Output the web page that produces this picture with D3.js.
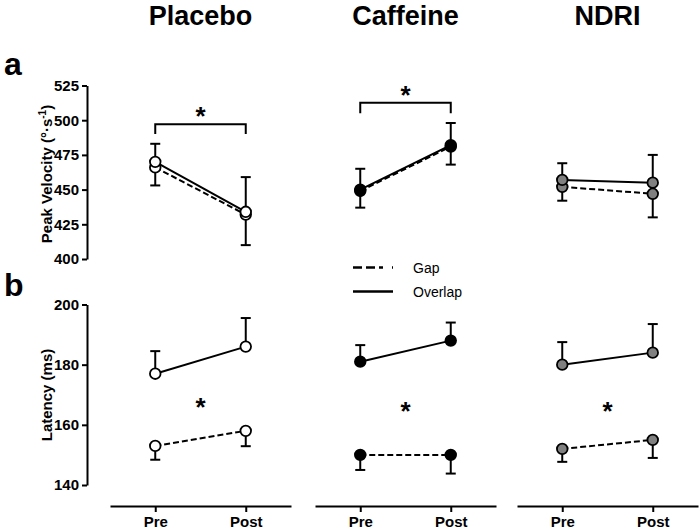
<!DOCTYPE html>
<html>
<head>
<meta charset="utf-8">
<script src="https://cdn.jsdelivr.net/npm/d3@7"></script>
<style>
body { margin: 0; background: #fff; }
text { font-family: "Liberation Sans", Arial, sans-serif; }
</style>
</head>
<body>
<script>
var w = 700;
var h = 531;

var groups = ["Placebo", "Caffeine", "NDRI"];
var times = ["Pre", "Post"];

// peak velocity (deg/s), mean and one-sided SEM
var velOverlap = [[470, 434], [450, 482], [457, 455]];
var velOverlapErr = [[13, 25], [15, 16], [12, 20]];
var velGap = [[466, 432], [449, 481], [452, 447]];
var velGapErr = [[13, 22], [12, 13], [10, 17]];
var velTicks = [400, 425, 450, 475, 500, 525];

// latency (ms)
var latOverlap = [[177, 186], [181, 188], [180, 184]];
var latOverlapErr = [[7.5, 9.5], [5.5, 6], [7.5, 9.5]];
var latGap = [[153, 158], [150, 150], [152, 155]];
var latGapErr = [[4.6, 5.1], [5, 6.2], [4.3, 6]];
var latTicks = [140, 160, 180, 200];

// significance: brackets in panel a, stars between lines in panel b
var velBracket = [[497, 490], [512.5, 505], null];
var latStar = [168, 166.5, 166.5];

var fills = ["#ffffff", "#000000", "#808080"];

var svg = d3.select("body").append("svg")
  .attr("width", w)
  .attr("height", h);

var panelX = [110, 315, 517];
var panelW = 181;

var yVel = d3.scaleLinear().domain([400, 525]).range([259, 85.5]);
var yLat = d3.scaleLinear().domain([140, 200]).range([485, 304.5]);

// panel letters
svg.append("text").attr("x", 4).attr("y", 75).text("a")
  .attr("font-size", 32).attr("font-weight", "bold");
svg.append("text").attr("x", 4).attr("y", 296).text("b")
  .attr("font-size", 32).attr("font-weight", "bold");

// y axes
function yAxis(scale, ticks) {
  var g = svg.append("g").attr("transform", "translate(87,0)")
    .call(d3.axisLeft(scale).tickValues(ticks).tickSize(5).tickSizeOuter(0).tickPadding(3));
  g.selectAll("path, line").attr("stroke", "#000").attr("stroke-width", 2);
  g.selectAll("text").attr("font-size", 15).attr("font-weight", "bold")
    .attr("font-family", "Liberation Sans, Arial, sans-serif").attr("fill", "#000");
  return g;
}
yAxis(yVel, velTicks);
yAxis(yLat, latTicks);

var velLab = svg.append("text")
  .attr("transform", "translate(52,174) rotate(-90)")
  .attr("text-anchor", "middle")
  .attr("font-size", 15).attr("font-weight", "bold");
velLab.append("tspan").text("Peak Velocity (°·s");
velLab.append("tspan").text("-1").attr("font-size", 10).attr("dy", -6);
velLab.append("tspan").text(")").attr("dy", 6);

svg.append("text")
  .attr("transform", "translate(52,395) rotate(-90)")
  .attr("text-anchor", "middle")
  .attr("font-size", 15).attr("font-weight", "bold")
  .text("Latency (ms)");

groups.forEach(function(name, gi) {
  var x = d3.scalePoint().domain(times)
    .range([panelX[gi], panelX[gi] + panelW]).padding(0.5);

  svg.append("text")
    .attr("x", panelX[gi] + panelW / 2)
    .attr("y", 25)
    .attr("text-anchor", "middle")
    .attr("font-size", 27).attr("font-weight", "bold")
    .text(name);

  // x axis
  var xa = svg.append("g").attr("transform", "translate(0,506)")
    .call(d3.axisBottom(x).tickSize(6).tickSizeOuter(0).tickPadding(4));
  xa.selectAll("path, line").attr("stroke", "#000").attr("stroke-width", 2);
  xa.selectAll("text").attr("font-size", 15).attr("font-weight", "bold")
    .attr("font-family", "Liberation Sans, Arial, sans-serif").attr("fill", "#000");

  var series = [
    { y: yVel, m: velGap[gi], e: velGapErr[gi], dir: -1, dash: "6,3" },
    { y: yVel, m: velOverlap[gi], e: velOverlapErr[gi], dir: 1, dash: null },
    { y: yLat, m: latGap[gi], e: latGapErr[gi], dir: -1, dash: "6,3" },
    { y: yLat, m: latOverlap[gi], e: latOverlapErr[gi], dir: 1, dash: null }
  ];

  series.forEach(function(s) {
    var pts = times.map(function(t, i) {
      return { t: t, v: s.m[i], e: s.e[i] };
    });
    var g = svg.append("g");
    // error bars (one-sided)
    g.selectAll("line.err").data(pts).enter().append("line")
      .attr("x1", function(d) { return x(d.t); })
      .attr("x2", function(d) { return x(d.t); })
      .attr("y1", function(d) { return s.y(d.v); })
      .attr("y2", function(d) { return s.y(d.v + s.dir * d.e); })
      .attr("stroke", "#000").attr("stroke-width", 2);
    g.selectAll("line.cap").data(pts).enter().append("line")
      .attr("x1", function(d) { return x(d.t) - 5; })
      .attr("x2", function(d) { return x(d.t) + 5; })
      .attr("y1", function(d) { return s.y(d.v + s.dir * d.e); })
      .attr("y2", function(d) { return s.y(d.v + s.dir * d.e); })
      .attr("stroke", "#000").attr("stroke-width", 2);
    g.append("path")
      .datum(pts)
      .attr("d", d3.line().x(function(d) { return x(d.t); }).y(function(d) { return s.y(d.v); }))
      .attr("fill", "none").attr("stroke", "#000").attr("stroke-width", 2)
      .attr("stroke-dasharray", s.dash);
    g.selectAll("circle").data(pts).enter().append("circle")
      .attr("cx", function(d) { return x(d.t); })
      .attr("cy", function(d) { return s.y(d.v); })
      .attr("r", 5.3)
      .attr("fill", fills[gi]).attr("stroke", "#000").attr("stroke-width", 1.8);
  });

  // significance bracket
  var b = velBracket[gi];
  if (b) {
    var xs = [x("Pre"), x("Post")];
    svg.append("path")
      .attr("d", "M" + xs[0] + "," + yVel(b[1]) + "V" + yVel(b[0]) + "H" + xs[1] + "V" + yVel(b[1]))
      .attr("fill", "none").attr("stroke", "#000").attr("stroke-width", 2);
    svg.append("text")
      .attr("x", (xs[0] + xs[1]) / 2)
      .attr("y", yVel(b[0]) + 1)
      .attr("text-anchor", "middle")
      .attr("font-size", 26).attr("font-weight", "bold")
      .text("*");
  }
  svg.append("text")
    .attr("x", (x("Pre") + x("Post")) / 2)
    .attr("y", yLat(latStar[gi]) + 15)
    .attr("text-anchor", "middle")
    .attr("font-size", 26).attr("font-weight", "bold")
    .text("*");
});

// legend
var legend = [{ label: "Gap", dash: "9,4,9,4,4" }, { label: "Overlap", dash: null }];
legend.forEach(function(d, i) {
  var ly = 267.5 + i * 24;
  svg.append("line")
    .attr("x1", 353).attr("x2", 393).attr("y1", ly).attr("y2", ly)
    .attr("stroke", "#000").attr("stroke-width", 2.5)
    .attr("stroke-dasharray", d.dash);
  svg.append("text")
    .attr("x", 413).attr("y", ly + 5)
    .attr("font-size", 14)
    .attr("font-family", "Liberation Sans Narrow, Arial Narrow, sans-serif")
    .text(d.label);
});
</script>
</body>
</html>
